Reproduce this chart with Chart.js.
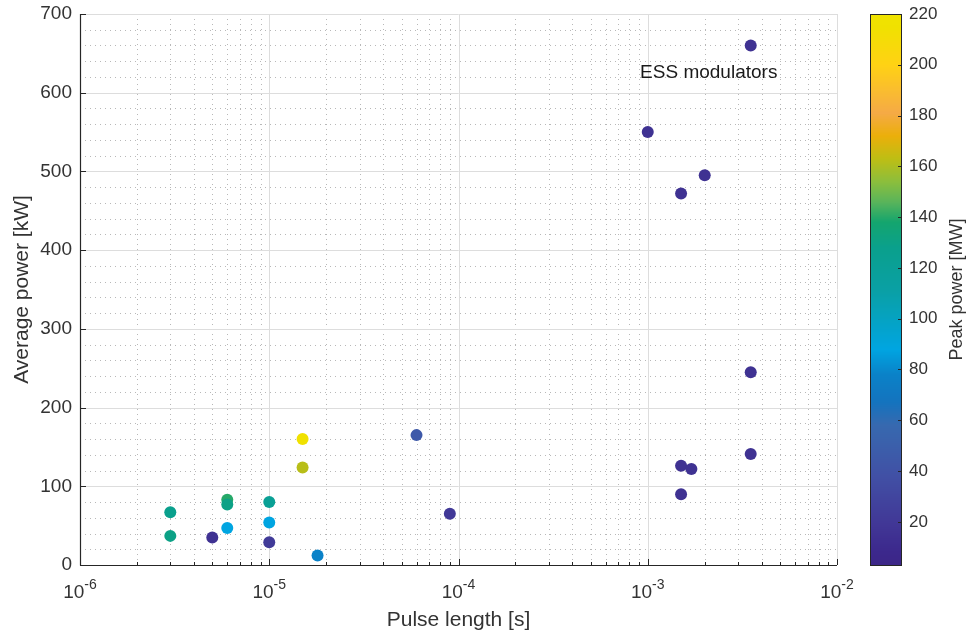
<!DOCTYPE html>
<html>
<head>
<meta charset="utf-8">
<script src="https://cdn.jsdelivr.net/npm/chart.js@4.4.0/dist/chart.umd.min.js"></script>
<style>
  html, body { margin: 0; padding: 0; background: #fff; }
  #wrap { width: 975px; height: 635px; }
</style>
</head>
<body>
<div id="wrap"><canvas id="chart" width="975" height="635"></canvas></div>
<script>
// Pulse length [s], average power [kW], peak power [MW] per klystron modulator
const pulseLength = [3.5e-3, 1e-3, 2e-3, 1.5e-3, 3.5e-3, 3.5e-3, 1.5e-3, 1.7e-3, 1.5e-3,
                     6e-5, 9e-5, 1.5e-5, 1.5e-5, 6e-6, 6e-6, 1e-5, 1e-5, 1e-5, 1.8e-5,
                     6e-6, 5e-6, 3e-6, 3e-6];
const averagePower = [660, 550, 495, 472, 245, 141, 126, 122, 90,
                      165, 65, 160, 124, 83, 77, 80, 54, 29, 12,
                      47, 35, 67, 37];
const peakPower = [15, 15, 15, 15, 15, 15, 15, 15, 15,
                   45, 20, 215, 162, 140, 130, 122, 88, 22, 78,
                   88, 15, 127, 130];

const xDecades = [-6, -5, -4, -3, -2];
const annotation = 'ESS modulators';

// colour map sampled from the colour bar (parula-like)
const cmapValues = [3, 8, 19, 38, 58, 67, 78, 88, 111, 128, 138, 146, 154, 163, 172, 181, 200, 215, 220];
const cmapColors = [
  [60, 38, 135], [60, 40, 140], [65, 55, 150], [65, 80, 165], [55, 105, 175], [20, 115, 190],
  [10, 130, 200], [0, 165, 225], [10, 160, 165], [10, 160, 140], [20, 165, 110], [90, 180, 90],
  [140, 190, 60], [190, 190, 20], [235, 175, 10], [245, 170, 70], [255, 210, 20], [240, 225, 0],
  [240, 228, 0]
];

function colorFor(v) {
  if (v <= cmapValues[0]) return 'rgb(' + cmapColors[0].join(',') + ')';
  for (let i = 0; i < cmapValues.length - 1; i++) {
    if (v <= cmapValues[i + 1]) {
      const t = (v - cmapValues[i]) / (cmapValues[i + 1] - cmapValues[i]);
      const c = cmapColors[i].map((a, k) => Math.round(a + (cmapColors[i + 1][k] - a) * t));
      return 'rgb(' + c.join(',') + ')';
    }
  }
  return 'rgb(' + cmapColors[cmapColors.length - 1].join(',') + ')';
}

const FONT = '"Liberation Sans", Arial, Helvetica, sans-serif';
const TEXT = '#333333';
const AXIS = '#262626';

function line(ctx, x1, y1, x2, y2) {
  ctx.beginPath();
  ctx.moveTo(x1, y1);
  ctx.lineTo(x2, y2);
  ctx.stroke();
}

const decor = {
  id: 'decor',
  beforeDatasetsDraw(chart) {
    const { ctx, chartArea: a, scales: { x, y } } = chart;
    ctx.save();
    ctx.lineWidth = 1;

    // minor grid, dotted
    ctx.strokeStyle = '#b8b8b8';
    ctx.setLineDash([1, 4]);
    xDecades.slice(0, -1).forEach(e => {
      for (let k = 2; k < 10; k++) {
        const px = Math.round(x.getPixelForValue(k * Math.pow(10, e))) + 0.5;
        line(ctx, px, a.top, px, a.bottom);
      }
    });
    for (let v = 20; v < 700; v += 20) {
      if (v % 100 === 0) continue;
      const py = Math.round(y.getPixelForValue(v)) + 0.5;
      line(ctx, a.left, py, a.right, py);
    }

    // major grid, solid
    ctx.setLineDash([]);
    ctx.strokeStyle = '#dddddd';
    xDecades.forEach(e => {
      const px = Math.round(x.getPixelForValue(Math.pow(10, e))) + 0.5;
      line(ctx, px, a.top, px, a.bottom);
    });
    for (let v = 0; v <= 700; v += 100) {
      const py = Math.round(y.getPixelForValue(v)) + 0.5;
      line(ctx, a.left, py, a.right, py);
    }
    ctx.restore();
  },
  afterDatasetsDraw(chart) {
    const { ctx, chartArea: a, scales: { x, y, c } } = chart;
    ctx.save();

    // axis lines and inward ticks
    ctx.strokeStyle = AXIS;
    ctx.lineWidth = 1.2;
    line(ctx, a.left + 0.5, a.top, a.left + 0.5, a.bottom + 0.6);
    line(ctx, a.left, a.bottom + 0.5, a.right, a.bottom + 0.5);
    ctx.lineWidth = 1;
    xDecades.forEach((e, i) => {
      const px = Math.round(x.getPixelForValue(Math.pow(10, e))) + 0.5;
      line(ctx, px, a.bottom, px, a.bottom - 6);
      if (i === xDecades.length - 1) return;
      for (let k = 2; k < 10; k++) {
        const mx = Math.round(x.getPixelForValue(k * Math.pow(10, e))) + 0.5;
        line(ctx, mx, a.bottom, mx, a.bottom - 3);
      }
    });
    for (let v = 0; v <= 700; v += 100) {
      const py = Math.round(y.getPixelForValue(v)) + 0.5;
      line(ctx, a.left, py, a.left + 6, py);
    }

    // x tick labels 10^n
    ctx.fillStyle = TEXT;
    ctx.textBaseline = 'alphabetic';
    ctx.textAlign = 'left';
    xDecades.forEach(e => {
      const px = x.getPixelForValue(Math.pow(10, e));
      ctx.font = '19px ' + FONT;
      const wb = ctx.measureText('10').width;
      ctx.font = '14px ' + FONT;
      const we = ctx.measureText(String(e)).width;
      const left = px - (wb + we) / 2;
      ctx.font = '19px ' + FONT;
      ctx.fillText('10', left, 598);
      ctx.font = '14px ' + FONT;
      ctx.fillText(String(e), left + wb, 589);
    });

    // axis titles
    ctx.font = '21px ' + FONT;
    ctx.textAlign = 'center';
    ctx.fillText('Pulse length [s]', (a.left + a.right) / 2, 626);
    ctx.save();
    ctx.translate(28, (a.top + a.bottom) / 2);
    ctx.rotate(-Math.PI / 2);
    ctx.fillText('Average power [kW]', 0, 0);
    ctx.restore();

    // annotation
    ctx.font = '19px ' + FONT;
    ctx.fillStyle = '#1a1a1a';
    ctx.fillText(annotation, x.getPixelForValue(1e-3) + 61, 78);

    // colour bar
    const bl = 870, bw = 31;
    const top = Math.round(c.getPixelForValue(c.max));
    const bot = Math.round(c.getPixelForValue(c.min));
    for (let py = top; py < bot; py++) {
      ctx.fillStyle = colorFor(c.getValueForPixel(py + 0.5));
      ctx.fillRect(bl, py, bw, 1);
    }
    ctx.strokeStyle = AXIS;
    ctx.lineWidth = 1;
    ctx.strokeRect(bl + 0.5, top + 0.5, bw, bot - top);
    for (let v = 20; v <= 220; v += 20) {
      const py = Math.round(c.getPixelForValue(v)) + 0.5;
      line(ctx, bl + bw, py, bl + bw - 3, py);
    }
    ctx.fillStyle = TEXT;
    ctx.font = '18px ' + FONT;
    ctx.save();
    ctx.translate(962, (top + bot) / 2);
    ctx.rotate(-Math.PI / 2);
    ctx.textAlign = 'center';
    ctx.fillText('Peak power [MW]', 0, 0);
    ctx.restore();

    ctx.restore();
  }
};

new Chart(document.getElementById('chart'), {
  type: 'scatter',
  data: {
    datasets: [{
      data: pulseLength.map((v, i) => ({ x: v, y: averagePower[i] })),
      backgroundColor: peakPower.map(colorFor),
      borderWidth: 0,
      pointRadius: 6,
      pointHoverRadius: 6
    }]
  },
  options: {
    responsive: false,
    animation: false,
    devicePixelRatio: 1,
    layout: { padding: { top: 14, left: 0, right: 0, bottom: 0 } },
    plugins: { legend: { display: false }, tooltip: { enabled: false } },
    scales: {
      x: {
        type: 'logarithmic',
        position: 'bottom',
        min: 1e-6,
        max: 1e-2,
        ticks: { display: false },
        grid: { display: false },
        border: { display: false },
        afterFit(s) { s.height = 70; }
      },
      y: {
        type: 'linear',
        position: 'left',
        min: 0,
        max: 700,
        ticks: { stepSize: 100, padding: 0, color: TEXT, font: { family: FONT, size: 19 } },
        grid: { display: false, drawTicks: true, tickLength: 8 },
        border: { display: false },
        afterFit(s) { s.width = 80; }
      },
      c: {
        type: 'linear',
        position: 'right',
        min: 3,
        max: 220,
        ticks: {
          stepSize: 20,
          autoSkip: false,
          padding: 0,
          color: TEXT,
          font: { family: FONT, size: 17 },
          callback: v => (v % 20 === 0 ? v : '')
        },
        grid: { display: false, drawTicks: true, tickLength: 72 },
        border: { display: false },
        afterFit(s) { s.width = 138; }
      }
    }
  },
  plugins: [decor]
});
</script>
</body>
</html>
